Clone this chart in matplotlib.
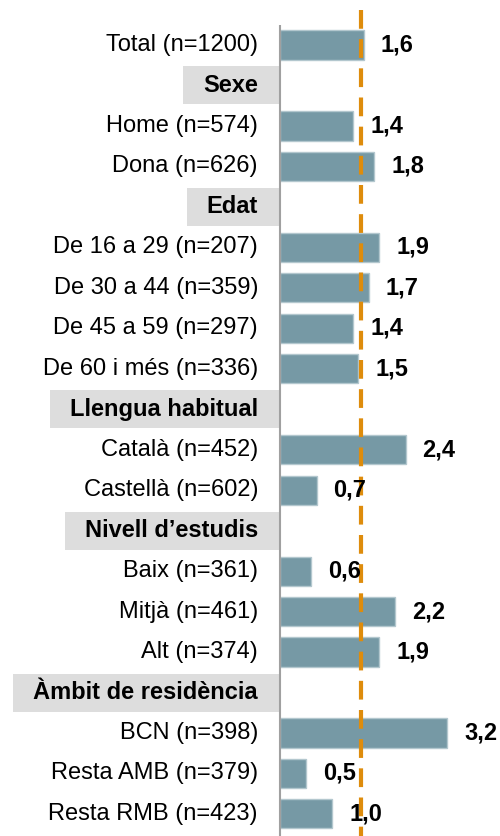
import matplotlib
matplotlib.use("Agg")
import matplotlib.pyplot as plt
from matplotlib.patches import Rectangle

plt.rcParams['font.family'] = ['Liberation Sans', 'DejaVu Sans']

# rows from top to bottom; group headers have no value
row_labels = ["Total (n=1200)", "Sexe", "Home (n=574)", "Dona (n=626)",
              "Edat", "De 16 a 29 (n=207)", "De 30 a 44 (n=359)",
              "De 45 a 59 (n=297)", "De 60 i més (n=336)",
              "Llengua habitual", "Català (n=452)", "Castellà (n=602)",
              "Nivell d\u2019estudis", "Baix (n=361)", "Mitjà (n=461)", "Alt (n=374)",
              "Àmbit de residència", "BCN (n=398)", "Resta AMB (n=379)",
              "Resta RMB (n=423)"]
values = [1.6, None, 1.4, 1.8, None, 1.9, 1.7, 1.4, 1.5,
          None, 2.4, 0.7, None, 0.6, 2.2, 1.9, None, 3.2, 0.5, 1.0]
mean_value = 1.55

bar_color = "#7699A5"
line_color = "#DE8C0C"
header_bg = "#DDDDDD"

W, H = 500, 836
fig = plt.figure(figsize=(W / 100, H / 100), dpi=100)
ax = fig.add_axes([280 / W, 0, 220 / W, 1])

px_per_unit = 52.3
row_px = 40.47
top_px = 45
ax.set_xlim(0, 220 / px_per_unit)
ax.set_ylim((H - top_px) / row_px, -top_px / row_px)
ax.axis("off")

ys = list(range(len(row_labels)))
for y, lab, v in zip(ys, row_labels, values):
    if v is None:
        continue
    ax.barh(y, v, height=0.72, color=bar_color, edgecolor="#B3C7CE", linewidth=1)
    ax.annotate(f"{v:.1f}".replace(".", ","), (v, y), xytext=(17, 0),
                textcoords="offset pixels", ha="left", va="center",
                fontsize=17, fontweight="bold", color="black")

# axis line and mean line
ax.plot([0, 0], [-0.494, ys[-1] + 2], color="#A0A0A0", lw=1.5,
        solid_capstyle="butt", clip_on=False)
ax.plot([mean_value, mean_value], [-0.865, ys[-1] + 2], color=line_color, lw=3,
        dashes=(4.5, 2.5), clip_on=False)

# category labels
texts = []
for y, lab, v in zip(ys, row_labels, values):
    t = ax.annotate(lab, (0, y), xytext=(-22, 0), textcoords="offset pixels",
                    ha="right", va="center", fontsize=17,
                    fontweight="bold" if v is None else "normal",
                    annotation_clip=False)
    if v is None:
        texts.append((t, y))

fig.canvas.draw()
r = fig.canvas.get_renderer()
for t, y in texts:
    bb = t.get_window_extent(r)
    x0 = bb.x0 - 20
    yc = ax.transData.transform((0, y))[1]
    rect = Rectangle((x0, yc - 19), 279 - x0, 38, transform=None,
                     facecolor=header_bg, edgecolor="none", zorder=-1)
    fig.patches.append(rect)

fig.savefig("out.png", dpi=100)
